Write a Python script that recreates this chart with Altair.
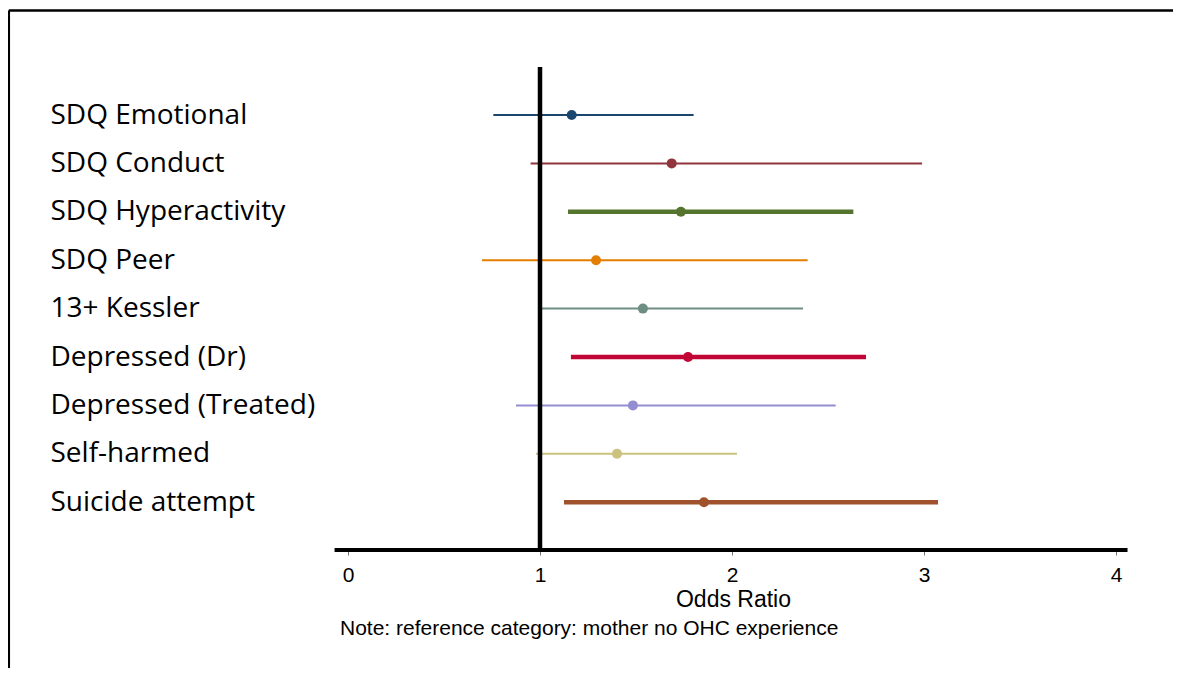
import altair as alt
import pandas as pd

# ---- data ----
outcomes = ["SDQ Emotional", "SDQ Conduct", "SDQ Hyperactivity", "SDQ Peer",
            "13+ Kessler", "Depressed (Dr)", "Depressed (Treated)",
            "Self-harmed", "Suicide attempt"]
odds_ratio = [1.165, 1.686, 1.734, 1.292, 1.536, 1.771, 1.484, 1.401, 1.854]
ci_low = [0.757, 0.951, 1.146, 0.698, 1.000, 1.161, 0.875, 0.979, 1.125]
ci_high = [1.800, 2.990, 2.632, 2.394, 2.370, 2.698, 2.540, 2.026, 3.073]
colors = ["#1a476f", "#90353b", "#55752f", "#e37e00", "#6e8e84",
          "#c10534", "#938dd2", "#cac27e", "#a0522d"]
x_ticks = [0, 1, 2, 3, 4]
x_title = "Odds Ratio"
note_text = "Note: reference category: mother no OHC experience"
reference_value = [1]
axis_extent = [-0.07, 4.06]

W, H = 1165, 660

df = pd.DataFrame({"outcome": outcomes, "or_": odds_ratio, "lo": ci_low, "hi": ci_high})
ref_df = pd.DataFrame({"or_": reference_value})
axis_df = pd.DataFrame({"a": [axis_extent[0]], "b": [axis_extent[1]]})
one = pd.DataFrame({"k": [0]})

xscale = alt.Scale(domain=[-1.7708, (W - 340) / 192], nice=False, zero=False)
xaxis = alt.Axis(values=x_ticks, domain=False, grid=False, tickSize=5, tickWidth=1,
                 tickColor="#777777", labelFont="Liberation Sans", labelFontSize=21,
                 labelColor="black", labelPadding=9, labelFlush=False, offset=542 - H,
                 title=x_title, titleFont="Liberation Sans", titleFontSize=23,
                 titleFontWeight="normal", titleColor="black", titleX=725, titleY=56,
                 titleAlign="center", titleBaseline="alphabetic")


def X(field):
    return alt.X(field, type="quantitative", scale=xscale, axis=xaxis)


yenc = alt.Y("outcome:N", sort=outcomes,
             scale=alt.Scale(type="point", range=[107, 494.2], padding=0),
             axis=alt.Axis(title=None, domain=False, ticks=False, tickSize=0,
                           labelAlign="left", labelPadding=0, offset=-42,
                           labelFont="Open Sans", labelFontSize=28, labelColor="black",
                           labelLimit=400, labelBaseline="middle"))
cenc = alt.Color("outcome:N", scale=alt.Scale(domain=outcomes, range=colors), legend=None)

border_left = alt.Chart(one).mark_rule(color="black", strokeWidth=2.5).encode(
    x=alt.value(0.8), y=alt.value(2.5), y2=alt.value(H))
border_top = alt.Chart(one).mark_rule(color="black", strokeWidth=2.5).encode(
    x=alt.value(0.8), x2=alt.value(W), y=alt.value(2.5))

ci = alt.Chart(df).mark_rule().encode(
    x=X("lo"), x2="hi", y=yenc, color=cenc,
    strokeWidth=alt.when(alt.datum.lo > 1.01).then(alt.value(4.5)).otherwise(alt.value(2)))

ref = alt.Chart(ref_df).mark_rule(color="black", strokeWidth=4.5).encode(
    x=X("or_"), y=alt.value(59), y2=alt.value(542))

axis_line = alt.Chart(axis_df).mark_rule(color="black", strokeWidth=4).encode(
    x=X("a"), x2="b", y=alt.value(542))

points = alt.Chart(df).mark_circle(size=100, opacity=1).encode(
    x=X("or_"), y=yenc, color=cenc)

note = alt.Chart(one).mark_text(align="left", baseline="alphabetic", font="Liberation Sans",
                                fontSize=21, color="black").encode(
    x=alt.value(332), y=alt.value(627), text=alt.value(note_text))

chart = alt.layer(border_left, border_top, ci, ref, axis_line, points, note).properties(
    width=W, height=H, padding=0, autosize=alt.AutoSizeParams(type="none"),
    background="white"
).configure_view(stroke=None)

chart.save("out.html", embed_options={"renderer": "svg", "actions": False})
